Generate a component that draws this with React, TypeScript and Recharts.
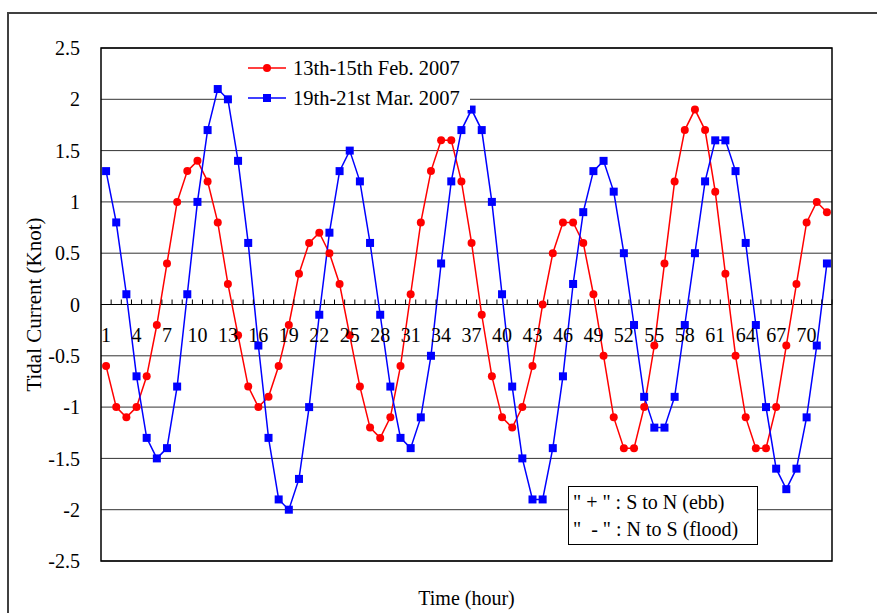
// Hourly tidal current over three days, two observation periods (Feb / Mar 2007).
import { CartesianGrid, Legend, Line, LineChart, ReferenceArea, ReferenceLine, XAxis, YAxis } from "recharts";

const HOURS = [
  1, 2, 3, 4, 5, 6, 7, 8, 9, 10, 11, 12, 13, 14, 15, 16, 17, 18, 19, 20, 21, 22, 23, 24,
  25, 26, 27, 28, 29, 30, 31, 32, 33, 34, 35, 36, 37, 38, 39, 40, 41, 42, 43, 44, 45, 46, 47, 48,
  49, 50, 51, 52, 53, 54, 55, 56, 57, 58, 59, 60, 61, 62, 63, 64, 65, 66, 67, 68, 69, 70, 71, 72,
];

// 13th-15th Feb. 2007
const FEB_2007 = [
  -0.6, -1.0, -1.1, -1.0, -0.7, -0.2, 0.4, 1.0, 1.3, 1.4, 1.2, 0.8, 0.2, -0.3, -0.8, -1.0, -0.9, -0.6,
  -0.2, 0.3, 0.6, 0.7, 0.5, 0.2, -0.3, -0.8, -1.2, -1.3, -1.1, -0.6, 0.1, 0.8, 1.3, 1.6, 1.6, 1.2,
  0.6, -0.1, -0.7, -1.1, -1.2, -1.0, -0.6, 0.0, 0.5, 0.8, 0.8, 0.6, 0.1, -0.5, -1.1, -1.4, -1.4, -1.0,
  -0.4, 0.4, 1.2, 1.7, 1.9, 1.7, 1.1, 0.3, -0.5, -1.1, -1.4, -1.4, -1.0, -0.4, 0.2, 0.8, 1.0, 0.9,
];

// 19th-21st Mar. 2007
const MAR_2007 = [
  1.3, 0.8, 0.1, -0.7, -1.3, -1.5, -1.4, -0.8, 0.1, 1.0, 1.7, 2.1, 2.0, 1.4, 0.6, -0.4, -1.3, -1.9,
  -2.0, -1.7, -1.0, -0.1, 0.7, 1.3, 1.5, 1.2, 0.6, -0.1, -0.8, -1.3, -1.4, -1.1, -0.5, 0.4, 1.2, 1.7,
  1.9, 1.7, 1.0, 0.1, -0.8, -1.5, -1.9, -1.9, -1.4, -0.7, 0.2, 0.9, 1.3, 1.4, 1.1, 0.5, -0.2, -0.9,
  -1.2, -1.2, -0.9, -0.2, 0.5, 1.2, 1.6, 1.6, 1.3, 0.6, -0.2, -1.0, -1.6, -1.8, -1.6, -1.1, -0.4, 0.4,
];

const Y_TICKS = [-2.5, -2, -1.5, -1, -0.5, 0, 0.5, 1, 1.5, 2, 2.5];

const SERIES = [
  { key: "feb", name: "13th-15th Feb. 2007", color: "#ff0000", marker: "circle" },
  { key: "mar", name: "19th-21st Mar. 2007", color: "#0000ff", marker: "square" },
];

const FONT = "'Liberation Serif', 'Times New Roman', serif";
const W = 877;
const H = 613;
const TOP = 48;
const LEFT = 101;
const RIGHT = 45;
const X_AXIS_H = 52;
const PLOT_H = H - TOP - X_AXIS_H;
const ZERO_Y = TOP + PLOT_H / 2; // domain is symmetric, zero sits mid-plot

const data = HOURS.map((hour, i) => ({ hour, feb: FEB_2007[i], mar: MAR_2007[i] }));

function Marker({ cx, cy, kind, color }: { cx: number; cy: number; kind: string; color: string }) {
  if (kind === "square") return <rect x={cx - 4} y={cy - 4} width={8} height={8} fill={color} />;
  return <circle cx={cx} cy={cy} r={4} fill={color} />;
}

// tick mark between categories on the zero line, label every 3rd hour below it
function HourTick(props: any) {
  const { x, payload, index } = props;
  const half = typeof payload?.offset === "number" && payload.offset > 0 ? payload.offset : (W - LEFT - RIGHT) / 144;
  const bx = x + half;
  return (
    <g>
      <line x1={bx} x2={bx} y1={ZERO_Y} y2={ZERO_Y - 5} stroke="#000" strokeWidth={1} />
      {index % 3 === 0 && (
        <text x={x} y={ZERO_Y + 37} textAnchor="middle" fontSize={20} fontFamily={FONT} fill="#000">
          {payload.value}
        </text>
      )}
    </g>
  );
}

function SeriesLegend() {
  return (
    <div style={{ fontFamily: FONT, fontSize: 20.5, color: "#000", paddingTop: 3 }}>
      {SERIES.map((s) => (
        <div key={s.key} style={{ display: "flex", alignItems: "center", height: 30, paddingLeft: 15 }}>
          <svg width={40} height={12} style={{ marginRight: 6, flexShrink: 0 }}>
            <line x1={1} x2={39} y1={6} y2={6} stroke={s.color} strokeWidth={1.5} />
            <Marker cx={20} cy={6} kind={s.marker} color={s.color} />
          </svg>
          <span style={{ whiteSpace: "nowrap" }}>{s.name}</span>
        </div>
      ))}
    </div>
  );
}

export default function App() {
  return (
    <div style={{ position: "absolute", left: 0, top: 0, width: W, height: H, background: "#fff", overflow: "hidden" }}>
      <div
        style={{
          position: "absolute",
          left: 7,
          top: 12,
          right: -4,
          bottom: -4,
          borderTop: "2px solid #404040",
          borderLeft: "2px solid #404040",
        }}
      />
      <LineChart width={W} height={H} data={data} margin={{ top: TOP, right: RIGHT, bottom: 0, left: 0 }}>
        <CartesianGrid vertical={false} stroke="#333" strokeWidth={1} />
        <XAxis
          dataKey="hour"
          scale="band"
          interval={0}
          height={X_AXIS_H}
          axisLine={false}
          tickLine={false}
          tick={<HourTick />}
          label={{ value: "Time (hour)", position: "insideBottom", offset: 8, fontSize: 20, fontFamily: FONT, fill: "#000" }}
        />
        <YAxis
          width={LEFT}
          domain={[-2.5, 2.5]}
          ticks={Y_TICKS}
          interval={0}
          axisLine={false}
          tickLine={false}
          tickMargin={15}
          tick={{ fontSize: 20, fontFamily: FONT, fill: "#000" }}
          label={{ value: "Tidal Current (Knot)", angle: -90, position: "center", dx: -17, fontSize: 21, fontFamily: FONT, fill: "#000" }}
        />
        <ReferenceArea y1={-2.5} y2={2.5} fill="none" stroke="#000" strokeWidth={1.5} ifOverflow="visible" />
        <ReferenceLine y={0} stroke="#000" strokeWidth={1.2} />
        <Legend
          layout="vertical"
          align="center"
          verticalAlign="middle"
          content={<SeriesLegend />}
          wrapperStyle={{ position: "absolute", left: 232, top: 50, width: 238, height: 60, background: "#fff" }}
        />
        {SERIES.map((s) => (
          <Line
            key={s.key}
            dataKey={s.key}
            name={s.name}
            type="linear"
            stroke={s.color}
            strokeWidth={1.5}
            isAnimationActive={false}
            activeDot={false}
            dot={(p: any) => <Marker key={`${s.key}-${p.index}`} cx={p.cx} cy={p.cy} kind={s.marker} color={s.color} />}
          />
        ))}
      </LineChart>
      <div
        style={{
          position: "absolute",
          left: 568,
          top: 486,
          width: 190,
          height: 59,
          boxSizing: "border-box",
          border: "1.5px solid #000",
          background: "#fff",
          fontFamily: FONT,
          fontSize: 20,
          lineHeight: "27px",
          padding: "2px 0 0 4px",
          whiteSpace: "pre",
          color: "#000",
        }}
      >
        <div>{'" + " : S to N (ebb)'}</div>
        <div>{'"  - " : N to S (flood)'}</div>
      </div>
    </div>
  );
}
